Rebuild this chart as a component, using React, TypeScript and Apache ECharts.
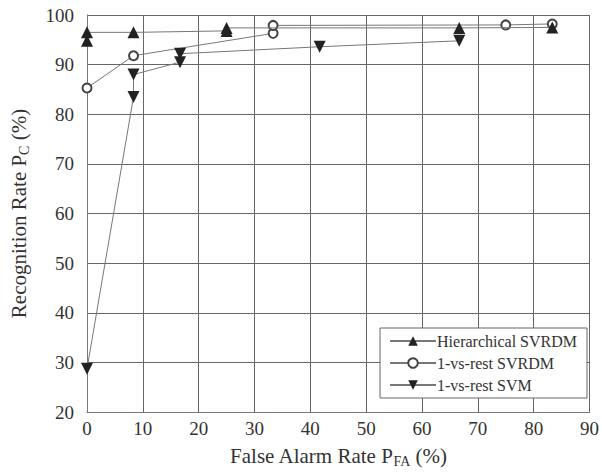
import React, { useEffect, useRef } from "react";
import * as echarts from "echarts";

const xTicks = [0, 10, 20, 30, 40, 50, 60, 70, 80, 90];
const yTicks = [20, 30, 40, 50, 60, 70, 80, 90, 100];

const seriesNames = ["Hierarchical SVRDM", "1-vs-rest SVRDM", "1-vs-rest SVM"];

const hierX = [0, 0, 8.33, 25, 25, 66.67, 83.33];
const hierY = [94.8, 96.5, 96.5, 96.8, 97.4, 97.4, 97.5];

const ovrSvrdmX = [0, 8.33, 33.33, 33.33, 75, 83.33];
const ovrSvrdmY = [85.3, 91.8, 96.3, 97.9, 98.0, 98.2];

const ovrSvmX = [0, 8.33, 8.33, 16.67, 16.67, 41.67, 66.67];
const ovrSvmY = [28.7, 83.5, 88.0, 90.5, 92.2, 93.6, 94.8];

const FONT = "'Liberation Serif', 'Times New Roman', 'DejaVu Serif', serif";

const zip = (xs: number[], ys: number[]) => xs.map((x, i) => [x, ys[i]]);

export default function App() {
  const ref = useRef<HTMLDivElement>(null);
  useEffect(() => {
    if (!ref.current) return;
    const chart = echarts.init(ref.current, undefined, { renderer: "svg" });
    const lineStyle = { color: "#777", width: 1 };
    const nameRich = {
      a: { fontFamily: FONT, fontSize: 21, color: "#333" },
      b: { fontFamily: FONT, fontSize: 14, color: "#333", padding: [11, 0, 0, 0] },
    };
    chart.setOption({
      animation: false,
      backgroundColor: "#fff",
      textStyle: { fontFamily: FONT },
      grid: { left: 87, right: 11, top: 15, bottom: 60, show: false },
      legend: {
        orient: "vertical",
        right: 15,
        bottom: 75,
        backgroundColor: "#fff",
        borderColor: "#666",
        borderWidth: 1,
        borderRadius: 0,
        padding: [5, 10, 5, 9],
        itemGap: 6,
        itemWidth: 46,
        itemHeight: 12,
        textStyle: { fontFamily: FONT, fontSize: 16, color: "#333", padding: [0, 0, 0, -4] },
        data: seriesNames,
      },
      xAxis: {
        type: "value",
        min: 0,
        max: 90,
        interval: 10,
        name: "{a|False Alarm Rate P}{b|FA}{a| (%)}",
        nameLocation: "middle",
        nameGap: 31,
        nameTextStyle: { fontFamily: FONT, rich: nameRich },
        axisLine: { show: true, lineStyle: { color: "#777", width: 1 } },
        axisTick: { show: false },
        axisLabel: {
          fontFamily: FONT,
          fontSize: 19,
          color: "#333",
          margin: 7,
          formatter: (v: number) => (xTicks.includes(v) ? String(v) : ""),
        },
        splitLine: { show: true, lineStyle: { color: "#666", width: 1 } },
      },
      yAxis: {
        type: "value",
        min: 20,
        max: 100,
        interval: 10,
        name: "{a|Recognition Rate P}{b|C}{a| (%)}",
        nameLocation: "middle",
        nameRotate: 90,
        nameGap: 56,
        nameTextStyle: { fontFamily: FONT, rich: nameRich },
        axisLine: { show: true, lineStyle: { color: "#777", width: 1 } },
        axisTick: { show: false },
        axisLabel: {
          fontFamily: FONT,
          fontSize: 19,
          color: "#333",
          margin: 13,
          formatter: (v: number) => (yTicks.includes(v) ? String(v) : ""),
        },
        splitLine: { show: true, lineStyle: { color: "#666", width: 1 } },
      },
      series: [
        {
          name: seriesNames[0],
          type: "line",
          data: zip(hierX, hierY),
          symbol: "triangle",
          symbolSize: 12,
          itemStyle: { color: "#222" },
          lineStyle,
          z: 3,
        },
        {
          name: seriesNames[1],
          type: "line",
          data: zip(ovrSvrdmX, ovrSvrdmY),
          symbol: "emptyCircle",
          symbolSize: 9,
          itemStyle: { color: "#444", borderColor: "#444", borderWidth: 1 },
          lineStyle,
          z: 2,
        },
        {
          name: seriesNames[2],
          type: "line",
          data: zip(ovrSvmX, ovrSvmY),
          symbol: "triangle",
          symbolRotate: 180,
          symbolSize: 12,
          itemStyle: { color: "#222" },
          lineStyle,
          z: 3,
        },
      ],
    });
    return () => chart.dispose();
  }, []);
  return (
    <div
      ref={ref}
      style={{ position: "fixed", left: 0, top: 0, width: 602, height: 473 }}
    />
  );
}
